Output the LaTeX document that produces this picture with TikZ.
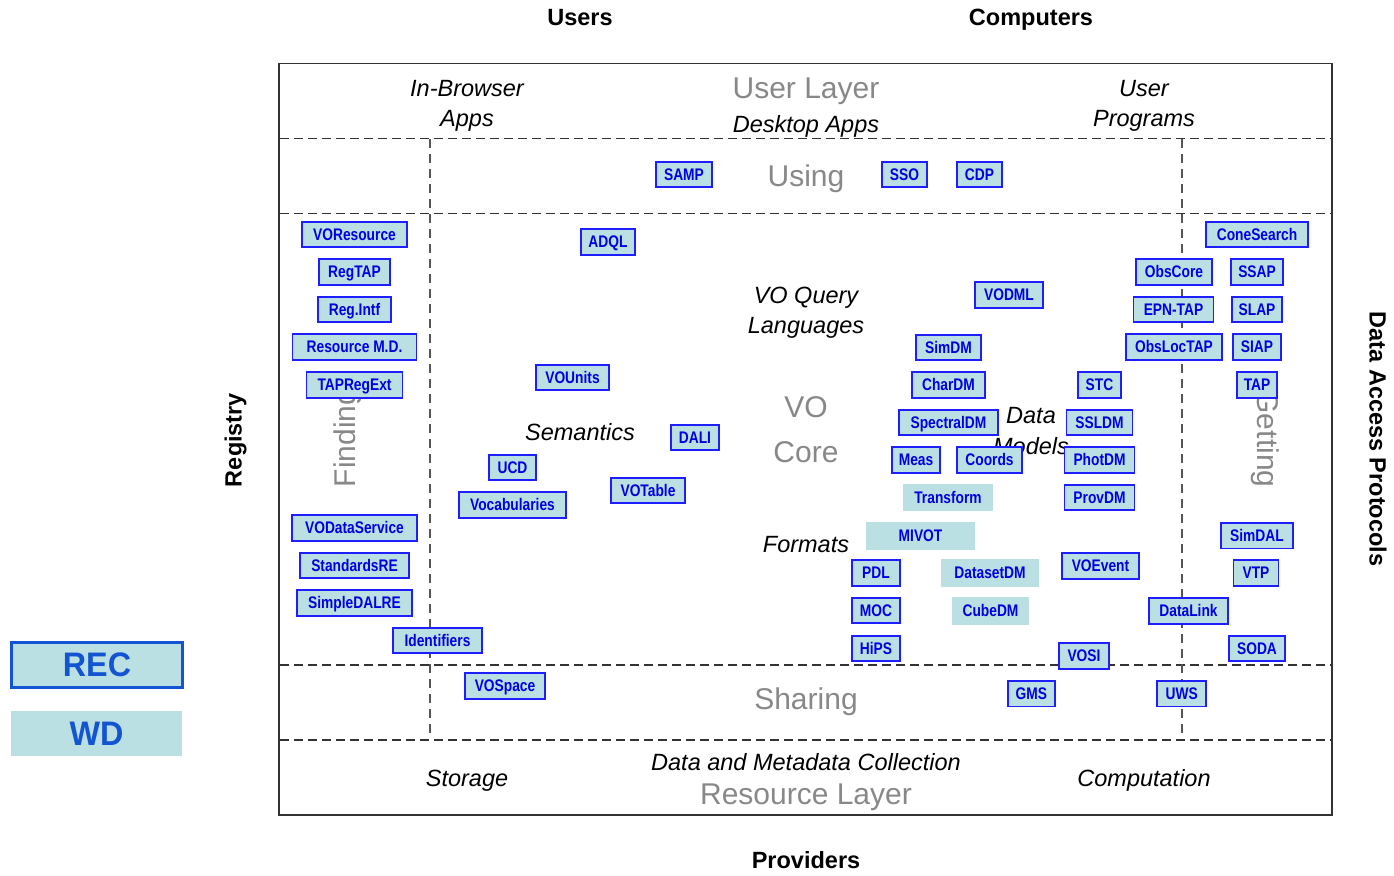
\documentclass[tikz,border=0pt]{standalone}
\usepackage{fontspec}
\setmainfont{Liberation Sans}
\newfontfamily\boxfont[FakeStretch=0.82]{Liberation Sans}
\newfontfamily\legfont[FakeStretch=0.95]{Liberation Sans}
\definecolor{boxfill}{RGB}{186,224,228}
\definecolor{boxline}{RGB}{30,30,255}
\definecolor{boxtext}{RGB}{0,0,225}
\definecolor{legblue}{RGB}{18,84,210}
\definecolor{graytxt}{RGB}{136,136,136}
\definecolor{hline}{RGB}{51,51,51}
\definecolor{vline}{RGB}{85,85,85}
\tikzset{
  rec/.style={draw=boxline, line width=1.8pt, fill=boxfill, text=boxtext,
    font=\boxfont\bfseries\fontsize{16.8}{18}\selectfont,
    minimum height=25.5pt, inner sep=0pt, text height=11.8pt, text depth=0pt},
  wd/.style={fill=boxfill, text=boxtext,
    font=\boxfont\bfseries\fontsize{16.8}{18}\selectfont,
    minimum height=27pt, inner sep=0pt, text height=11.8pt, text depth=0pt},
  lbl/.style={font=\itshape\fontsize{23.5}{30}\selectfont, align=center, inner sep=0pt},
  layer/.style={text=graytxt, font=\fontsize{30}{45}\selectfont, align=center, inner sep=0pt},
  hdr/.style={font=\bfseries\fontsize{23.5}{28}\selectfont, inner sep=0pt},
  hdash/.style={draw=hline, line width=1.6pt, dash pattern=on 9pt off 5pt},
  vdash/.style={draw=vline, line width=1.3pt, dash pattern=on 9pt off 6pt},
  legrec/.style={draw=legblue, line width=3pt, fill=boxfill, text=legblue,
    font=\legfont\bfseries\fontsize{34}{36}\selectfont, minimum width=171pt, minimum height=45pt, inner sep=0pt},
  legwd/.style={fill=boxfill, text=legblue,
    font=\legfont\bfseries\fontsize{34}{36}\selectfont, minimum width=171pt, minimum height=45pt, inner sep=0pt},
}
\begin{document}
\begin{tikzpicture}[x=1pt,y=-1pt]
\useasboundingbox (0,0) rectangle (1394,875);
% frame and separators
\coordinate (hl1a) at (280,138.3); \coordinate (hl1b) at (1332,138.3);
\coordinate (hl2a) at (280,213.3); \coordinate (hl2b) at (1332,213.3);
\coordinate (hl3a) at (280,665);   \coordinate (hl3b) at (1332,665);
\coordinate (hl4a) at (280,740);   \coordinate (hl4b) at (1332,740);
\coordinate (vl1a) at (430,139);   \coordinate (vl1b) at (430,733);
\coordinate (vl2a) at (1182,139);  \coordinate (vl2b) at (1182,733);
\draw[hdash] (hl1a) -- (hl1b);
\draw[hdash] (hl2a) -- (hl2b);
\draw[hdash] (hl3a) -- (hl3b);
\draw[hdash] (hl4a) -- (hl4b);
\draw[vdash] (vl1a) -- (vl1b);
\draw[vdash] (vl2a) -- (vl2b);
\draw[draw=hline, line width=1.8pt] (279,63.5) rectangle (1332,815);

% outside headers
\node[hdr, anchor=base] (users) at (580,26) {Users};
\node[hdr, anchor=base] (computers) at (1031,26) {Computers};
\node[hdr, anchor=base] (providers) at (806,868) {Providers};
\node[hdr, anchor=base, rotate=90] (registry) at (241.5,440) {Registry};
\node[hdr, anchor=base, rotate=-90] (dap) at (1369.5,439) {Data Access Protocols};

% layer / region labels
\node[lbl] (inbrowser) at (467,106.3) {In-Browser\\Apps};
\node[layer, anchor=base] (userlayer) at (806,98) {User Layer};
\node[lbl, anchor=base] (desktop) at (806,132.5) {Desktop Apps};
\node[lbl] (userprog) at (1144,106.3) {User\\Programs};
\node[layer, anchor=base] (using) at (806,186.5) {Using};
\node[lbl] (voquery) at (806,313) {VO Query\\Languages};
\node[layer] (vocore) at (806,429.5) {VO\\Core};
\node[lbl, anchor=base] (semantics) at (580,440.5) {Semantics};
\node[lbl, font=\itshape\fontsize{23.5}{31}\selectfont] (datamodels) at (1031,431.5) {Data\\Models};
\node[lbl, anchor=base] (formats) at (806,552.5) {Formats};
\node[layer, anchor=base, rotate=90] (finding) at (355,438) {Finding};
\node[layer, anchor=base, rotate=-90] (getting) at (1257.5,439) {Getting};
\node[layer, anchor=base] (sharing) at (806,709.5) {Sharing};
\node[lbl, anchor=base] (storage) at (467,786.5) {Storage};
\node[lbl, anchor=base] (dmc) at (806,770.5) {Data and Metadata Collection};
\node[layer, anchor=base] (reslayer) at (806,804.5) {Resource Layer};
\node[lbl, anchor=base] (computation) at (1144,786.5) {Computation};

% Using row
\node[rec, minimum width=56pt] (samp) at (684,174.5) {SAMP};
\node[rec, minimum width=45pt] (sso) at (904.5,174.5) {SSO};
\node[rec, minimum width=45pt] (cdp) at (979.5,174.5) {CDP};

% Registry column
\node[rec, minimum width=105pt] (voresource) at (354.5,234.5) {VOResource};
\node[rec, minimum width=71pt] (regtap) at (354.5,272) {RegTAP};
\node[rec, minimum width=73pt] (regintf) at (354.5,309.5) {Reg.Intf};
\node[rec, minimum width=124pt] (resmd) at (354.5,347) {Resource M.D.};
\node[rec, minimum width=96pt] (tapregext) at (354.5,385) {TAPRegExt};
\node[rec, minimum width=125pt] (vodataservice) at (354.5,528) {VODataService};
\node[rec, minimum width=109pt] (standardsre) at (354.5,565.5) {StandardsRE};
\node[rec, minimum width=115pt] (simpledalre) at (354.5,603) {SimpleDALRE};
\node[rec, minimum width=89pt] (identifiers) at (437.5,640.5) {Identifiers};
\node[rec, minimum width=80pt] (vospace) at (505,686) {VOSpace};

% Core
\node[rec, minimum width=54pt] (adql) at (608,242) {ADQL};
\node[rec, minimum width=73pt] (vounits) at (572.5,377.5) {VOUnits};
\node[rec, minimum width=48pt] (dali) at (695,437.5) {DALI};
\node[rec, minimum width=47pt] (ucd) at (512.5,467.5) {UCD};
\node[rec, minimum width=74pt] (votable) at (648,490.5) {VOTable};
\node[rec, minimum width=107pt] (vocab) at (512.5,505) {Vocabularies};

% Data models
\node[rec, minimum width=68pt] (vodml) at (1009,295) {VODML};
\node[rec, minimum width=65pt] (simdm) at (948.5,347.5) {SimDM};
\node[rec, minimum width=73pt] (chardm) at (948.5,385) {CharDM};
\node[rec, minimum width=99pt] (spectraldm) at (948.5,422.5) {SpectralDM};
\node[rec, minimum width=48pt] (meas) at (916,460) {Meas};
\node[rec, minimum width=65pt] (coords) at (989.5,460) {Coords};
\node[wd, minimum width=90pt] (transform) at (948,497.5) {Transform};
\node[rec, minimum width=43pt] (stc) at (1099.5,385) {STC};
\node[rec, minimum width=66pt] (ssldm) at (1099.5,422.5) {SSLDM};
\node[rec, minimum width=70pt] (photdm) at (1099.5,460) {PhotDM};
\node[rec, minimum width=70pt] (provdm) at (1099.5,497.5) {ProvDM};

% Formats area
\node[wd, minimum width=109pt, minimum height=28pt] (mivot) at (920.5,536) {MIVOT};
\node[rec, minimum width=48.5pt] (pdl) at (876,573) {PDL};
\node[wd, minimum width=98pt, minimum height=28pt] (datasetdm) at (990,573) {DatasetDM};
\node[rec, minimum width=48.5pt] (moc) at (876,610.5) {MOC};
\node[wd, minimum width=77pt, minimum height=28pt] (cubedm) at (990.5,610.5) {CubeDM};
\node[rec, minimum width=48.5pt] (hips) at (876,648.5) {HiPS};
\node[rec, minimum width=77pt] (voevent) at (1100.5,566) {VOEvent};

% Data access protocols
\node[rec, minimum width=76pt] (obscore) at (1174,272) {ObsCore};
\node[rec, minimum width=80pt] (epntap) at (1173.5,309.5) {EPN-TAP};
\node[rec, minimum width=96pt] (obsloctap) at (1174,347) {ObsLocTAP};
\node[rec, minimum width=102pt] (conesearch) at (1257,234.5) {ConeSearch};
\node[rec, minimum width=52pt] (ssap) at (1257,272) {SSAP};
\node[rec, minimum width=50pt] (slap) at (1257,309.5) {SLAP};
\node[rec, minimum width=48pt] (siap) at (1257,347) {SIAP};
\node[rec, minimum width=40pt] (tap) at (1257,385) {TAP};
\node[rec, minimum width=71.5pt] (simdal) at (1257,535.7) {SimDAL};
\node[rec, minimum width=45pt] (vtp) at (1256,573) {VTP};
\node[rec, minimum width=79pt] (datalink) at (1188.5,611) {DataLink};
\node[rec, minimum width=56pt] (soda) at (1257,648.5) {SODA};
\node[rec, minimum width=50pt] (vosi) at (1084,656) {VOSI};
\node[rec, minimum width=47pt] (gms) at (1031.3,693.7) {GMS};
\node[rec, minimum width=49pt] (uws) at (1181.8,693.7) {UWS};

% legend
\node[legrec] (legrecbox) at (97,665) {REC};
\node[legwd] (legwdbox) at (96.5,733.5) {WD};
\end{tikzpicture}
\end{document}
